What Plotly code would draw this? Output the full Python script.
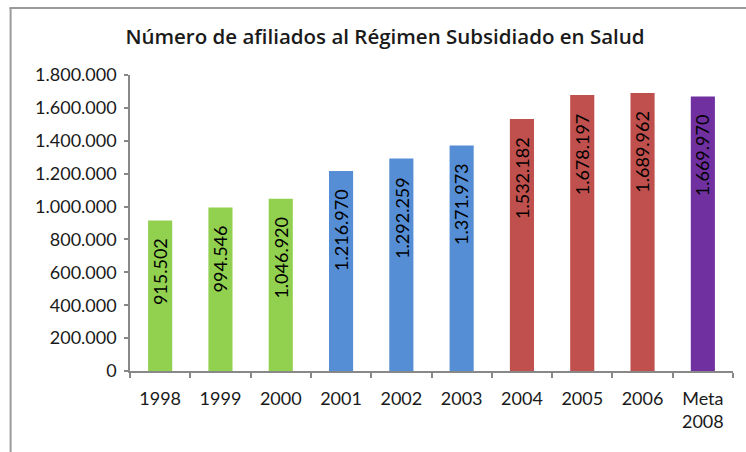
import plotly.graph_objects as go

categories = ["1998", "1999", "2000", "2001", "2002", "2003", "2004", "2005", "2006", "Meta<br>2008"]
values = [915502, 994546, 1046920, 1216970, 1292259, 1371973, 1532182, 1678197, 1689962, 1669970]
labels = ["915.502", "994.546", "1.046.920", "1.216.970", "1.292.259", "1.371.973",
          "1.532.182", "1.678.197", "1.689.962", "1.669.970"]
colors = ["#92D050", "#92D050", "#92D050", "#558ED5", "#558ED5", "#558ED5",
          "#C0504D", "#C0504D", "#C0504D", "#7030A0"]
title = "Número de afiliados al Régimen Subsidiado en Salud"

FONT = "Lato, Open Sans, sans-serif"
TXT = "#1a1a1a"

fig = go.Figure()
fig.add_trace(go.Bar(x=categories, y=values, marker=dict(color=colors, line=dict(width=0)),
                     hoverinfo="skip"))

# value labels inside the top of each bar (category index from the data order)
for i, (v, t) in enumerate(zip(values, labels)):
    fig.add_annotation(x=i, y=v, xref="x", yref="y", text=t, textangle=-90, showarrow=False,
                       xanchor="center", yanchor="top", yshift=-16,
                       font=dict(family=FONT, size=18, color="#000000"))

# outer chart frame (left and top edges visible)
fig.add_shape(type="line", xref="paper", yref="paper",
              x0=-0.198, x1=-0.198, y0=1.226, y1=-0.5,
              line=dict(color="#9A9A9A", width=2))
fig.add_shape(type="line", xref="paper", yref="paper",
              x0=-0.2, x1=1.05, y0=1.226, y1=1.226,
              line=dict(color="#9A9A9A", width=2))

fig.update_layout(
    width=746, height=452,
    margin=dict(l=130, r=13, t=75, b=81),
    paper_bgcolor="white", plot_bgcolor="white",
    separators=",.",
    bargap=0.6,
    showlegend=False,
    title=dict(text=title, x=385 / 746, xref="container", xanchor="center",
               y=1 - 37 / 452, yref="container", yanchor="middle",
               font=dict(family="Open Sans, sans-serif", size=20.5, weight=600, color=TXT)),
    font=dict(family=FONT, size=18, color=TXT),
)

fig.update_yaxes(range=[0, 1800000], dtick=200000, tickformat=",d",
                 showgrid=False, zeroline=False,
                 showline=True, linecolor="#888888", linewidth=1.5,
                 ticks="outside", ticklen=4, tickcolor="#888888", tickwidth=1.5,
                 ticklabelstandoff=4,
                 tickfont=dict(family=FONT, size=18, color=TXT))
fig.update_xaxes(type="category", range=[-0.5, 9.5], showgrid=False, tickson="boundaries",
                 showline=True, linecolor="#888888", linewidth=2,
                 ticks="outside", ticklen=5, tickcolor="#888888", tickwidth=1.5,
                 tickangle=0, ticklabelstandoff=10,
                 tickfont=dict(family=FONT, size=18, color=TXT))

fig.write_html("out.html", config={"displayModeBar": False},
               post_script="document.body.style.margin='0';")
